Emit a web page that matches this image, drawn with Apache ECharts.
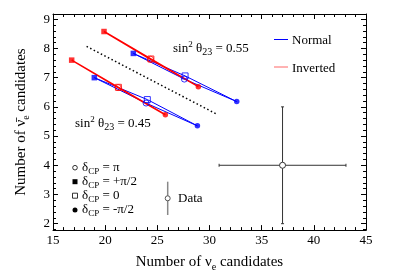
<!DOCTYPE html>
<html>
<head>
<meta charset="utf-8">
<script src="https://cdn.jsdelivr.net/npm/echarts@6/dist/echarts.min.js"></script>
<style>html,body{margin:0;padding:0;background:#fff;}#c{width:407px;height:277px;}</style>
</head>
<body>
<div id="c"></div>
<script>
// ---- data ----
const xTicks = [15, 20, 25, 30, 35, 40, 45];
const yTicks = [2, 3, 4, 5, 6, 7, 8, 9];
const yMinorTicks = [1.8, 2.2, 2.4, 2.6, 2.8, 3.2, 3.4, 3.6, 3.8, 4.2, 4.4, 4.6, 4.8,
  5.2, 5.4, 5.6, 5.8, 6.2, 6.4, 6.6, 6.8, 7.2, 7.4, 7.6, 7.8, 8.2, 8.4, 8.6, 8.8, 9.2];
// point order: [δCP = π, δCP = +π/2, δCP = 0, δCP = -π/2]
const deltaLabels = ['π', '+π/2', '0', '-π/2'];
const normal045 = [[23.92, 6.13], [18.96, 7.00], [24.04, 6.25], [28.84, 5.35]];
const inverted045 = [[21.24, 6.66], [16.79, 7.60], [21.27, 6.67], [25.77, 5.73]];
const normal055 = [[27.59, 6.95], [22.70, 7.83], [27.66, 7.06], [32.61, 6.18]];
const inverted055 = [[24.35, 7.63], [19.89, 8.58], [24.38, 7.64], [28.93, 6.69]];
const dottedLine = [[18.22, 8.07], [30.75, 5.74]];
const dataPoint = [37, 4, 6.08, 2.0]; // x, y, x error, y error
const xRange = [15, 45];
const yRange = [1.78, 9.18];

// ---- styling ----
const FONT = 'Liberation Serif';
const BLUE = '#0000ff', RED = '#ff0000';
const markerDefs = [
  { symbol: 'circle', hollow: true },
  { symbol: 'rect', hollow: false },
  { symbol: 'rect', hollow: true },
  { symbol: 'circle', hollow: false }
];
const loopOrder = [3, 2, 1, 0, 3];
const drawOrder = [2, 0, 1, 3];

function loopSeries(pts, color, width) {
  return {
    type: 'line', data: loopOrder.map(i => pts[i]), symbol: 'none', silent: true,
    lineStyle: { color: color, width: width }, z: 2, animation: false
  };
}
function markerSeries(pts, color) {
  return {
    type: 'scatter', z: 4, animation: false, silent: true,
    data: drawOrder.map(i => {
      const m = markerDefs[i];
      return {
        value: pts[i], symbol: m.symbol,
        symbolSize: m.hollow ? 6 : 5.5,
        itemStyle: m.hollow ? { color: 'rgba(255,255,255,0)', borderColor: color, borderWidth: 1 } : { color: color }
      };
    })
  };
}

const subStyle = { fontSize: 10, lineHeight: 10, verticalAlign: 'bottom', fontFamily: FONT, color: '#000' };
const supStyle = { fontSize: 9, lineHeight: 9, verticalAlign: 'top', fontFamily: FONT, color: '#000' };

const axisCommon = {
  type: 'value', splitLine: { show: false },
  axisLine: { show: true, onZero: false, lineStyle: { color: '#000', width: 1 } }
};

const chart = echarts.init(document.getElementById('c'), null, { renderer: 'canvas' });
const option = {
  animation: false,
  textStyle: { fontFamily: FONT },
  grid: { left: 53, right: 41, top: 14, bottom: 44, containLabel: false },
  xAxis: [
    Object.assign({}, axisCommon, {
      position: 'bottom', min: xRange[0], max: xRange[1], interval: 5,
      axisTick: { inside: true, length: 5, lineStyle: { color: '#000' } },
      minorTick: { show: true, splitNumber: 5, length: 3, lineStyle: { color: '#000' } },
      axisLabel: { fontSize: 13, fontFamily: FONT, color: '#000', margin: 4 },
      name: 'Number of ν{sub|e} candidates', nameLocation: 'middle', nameGap: 14,
      nameTextStyle: { fontSize: 15, fontFamily: FONT, color: '#000', lineHeight: 20, rich: { sub: subStyle } }
    }),
    Object.assign({}, axisCommon, {
      position: 'top', min: xRange[0], max: xRange[1], interval: 5,
      axisTick: { inside: true, length: 5, lineStyle: { color: '#000' } },
      minorTick: { show: true, splitNumber: 5, length: 3, lineStyle: { color: '#000' } },
      axisLabel: { show: false }
    })
  ],
  yAxis: [
    Object.assign({}, axisCommon, {
      position: 'left', min: yRange[0], max: yRange[1],
      axisTick: { inside: true, length: 5, customValues: yTicks, lineStyle: { color: '#000' } },
      axisLabel: { customValues: yTicks, fontSize: 13, fontFamily: FONT, color: '#000', margin: 3 },
      name: 'Number of ν̄{sub|e} candidates', nameLocation: 'middle', nameGap: 22, nameRotate: 90,
      nameTextStyle: { fontSize: 15, fontFamily: FONT, color: '#000', lineHeight: 20, rich: { sub: subStyle } }
    }),
    Object.assign({}, axisCommon, {
      position: 'left', min: yRange[0], max: yRange[1],
      axisLine: { show: false, onZero: false },
      axisTick: { inside: true, length: 3, customValues: yMinorTicks, lineStyle: { color: '#000' } },
      axisLabel: { show: false }
    }),
    Object.assign({}, axisCommon, {
      position: 'right', min: yRange[0], max: yRange[1],
      axisTick: { inside: true, length: 5, customValues: yTicks, lineStyle: { color: '#000' } },
      axisLabel: { show: false }
    }),
    Object.assign({}, axisCommon, {
      position: 'right', min: yRange[0], max: yRange[1],
      axisLine: { show: false, onZero: false },
      axisTick: { inside: true, length: 3, customValues: yMinorTicks, lineStyle: { color: '#000' } },
      axisLabel: { show: false }
    })
  ],
  series: [
    {
      type: 'line', data: dottedLine, symbol: 'none', silent: true, z: 1,
      lineStyle: { color: '#000', width: 1.5, type: [1.5, 2.5] }
    },
    loopSeries(normal045, BLUE, 1),
    loopSeries(normal055, BLUE, 1),
    loopSeries(inverted045, RED, 1.5),
    loopSeries(inverted055, RED, 1.5),
    markerSeries(normal045, BLUE),
    markerSeries(normal055, BLUE),
    markerSeries(inverted045, RED),
    markerSeries(inverted055, RED),
    {
      type: 'custom', data: [dataPoint], silent: true, z: 5,
      encode: { x: 0, y: 1 },
      renderItem: function (params, api) {
        const x = api.value(0), y = api.value(1), ex = api.value(2), ey = api.value(3);
        const c = api.coord([x, y]);
        const l = api.coord([x - ex, y]), r = api.coord([x + ex, y]);
        const t = api.coord([x, y + ey]), b = api.coord([x, y - ey]);
        const rad = 3, cap = 1.5;
        const st = { stroke: '#333', lineWidth: 1 };
        return {
          type: 'group', children: [
            { type: 'line', shape: { x1: l[0], y1: c[1], x2: c[0] - rad, y2: c[1] }, style: st },
            { type: 'line', shape: { x1: c[0] + rad, y1: c[1], x2: r[0], y2: c[1] }, style: st },
            { type: 'line', shape: { x1: c[0], y1: t[1], x2: c[0], y2: c[1] - rad }, style: st },
            { type: 'line', shape: { x1: c[0], y1: c[1] + rad, x2: c[0], y2: b[1] }, style: st },
            { type: 'line', shape: { x1: l[0], y1: c[1] - cap, x2: l[0], y2: c[1] + cap }, style: st },
            { type: 'line', shape: { x1: r[0], y1: c[1] - cap, x2: r[0], y2: c[1] + cap }, style: st },
            { type: 'line', shape: { x1: c[0] - cap, y1: t[1], x2: c[0] + cap, y2: t[1] }, style: st },
            { type: 'line', shape: { x1: c[0] - cap, y1: b[1], x2: c[0] + cap, y2: b[1] }, style: st },
            { type: 'circle', shape: { cx: c[0], cy: c[1], r: rad }, style: { fill: 'rgba(255,255,255,0)', stroke: '#333', lineWidth: 1 } }
          ]
        };
      }
    }
  ],
  graphic: [
    // sin^2 theta23 annotations
    { type: 'text', left: 173, top: 40, z: 10, style: { text: 'sin{sup|2} θ{sub|23} = 0.55', fontSize: 13, fontFamily: FONT, fill: '#000', lineHeight: 17, rich: { sup: supStyle, sub: subStyle } } },
    { type: 'text', left: 75, top: 115, z: 10, style: { text: 'sin{sup|2} θ{sub|23} = 0.45', fontSize: 13, fontFamily: FONT, fill: '#000', lineHeight: 17, rich: { sup: supStyle, sub: subStyle } } },
    // hierarchy legend
    { type: 'line', shape: { x1: 274, y1: 39.5, x2: 288, y2: 39.5 }, style: { stroke: BLUE, lineWidth: 1 } },
    { type: 'text', x: 292, y: 40.5, style: { text: 'Normal', fontSize: 13, fontFamily: FONT, fill: '#000', verticalAlign: 'middle' } },
    { type: 'line', shape: { x1: 274, y1: 67, x2: 288, y2: 67 }, style: { stroke: RED, lineWidth: 1, opacity: 0.6 } },
    { type: 'text', x: 292, y: 68.5, style: { text: 'Inverted', fontSize: 13, fontFamily: FONT, fill: '#000', verticalAlign: 'middle' } },
    // delta CP legend
    { type: 'circle', shape: { cx: 75, cy: 167.7, r: 2.3 }, style: { fill: '#fff', stroke: '#000', lineWidth: 0.8 } },
    { type: 'rect', shape: { x: 72.5, y: 179.2, width: 5, height: 5 }, style: { fill: '#000' } },
    { type: 'rect', shape: { x: 72.5, y: 193.2, width: 5, height: 5 }, style: { fill: '#fff', stroke: '#000', lineWidth: 0.8 } },
    { type: 'circle', shape: { cx: 75, cy: 210, r: 2.5 }, style: { fill: '#000' } }
  ].concat(deltaLabels.map((lab, i) => ({
    type: 'text', x: 82, y: [167.7, 181.7, 195.7, 210][i],
    style: { text: 'δ{sub|CP} = ' + lab, fontSize: 13, fontFamily: FONT, fill: '#000', verticalAlign: 'middle', lineHeight: 17, rich: { sub: Object.assign({}, subStyle, { fontSize: 9, lineHeight: 9 }) } }
  }))).concat([
    { type: 'line', shape: { x1: 167.7, y1: 181.7, x2: 167.7, y2: 215 }, style: { stroke: '#888', lineWidth: 1.5 } },
    { type: 'circle', shape: { cx: 167.7, cy: 198.3, r: 2.5 }, style: { fill: '#fff', stroke: '#555', lineWidth: 1 } },
    { type: 'text', x: 178, y: 199, style: { text: 'Data', fontSize: 13, fontFamily: FONT, fill: '#000', verticalAlign: 'middle' } }
  ])
};
chart.setOption(option);
</script>
</body>
</html>
